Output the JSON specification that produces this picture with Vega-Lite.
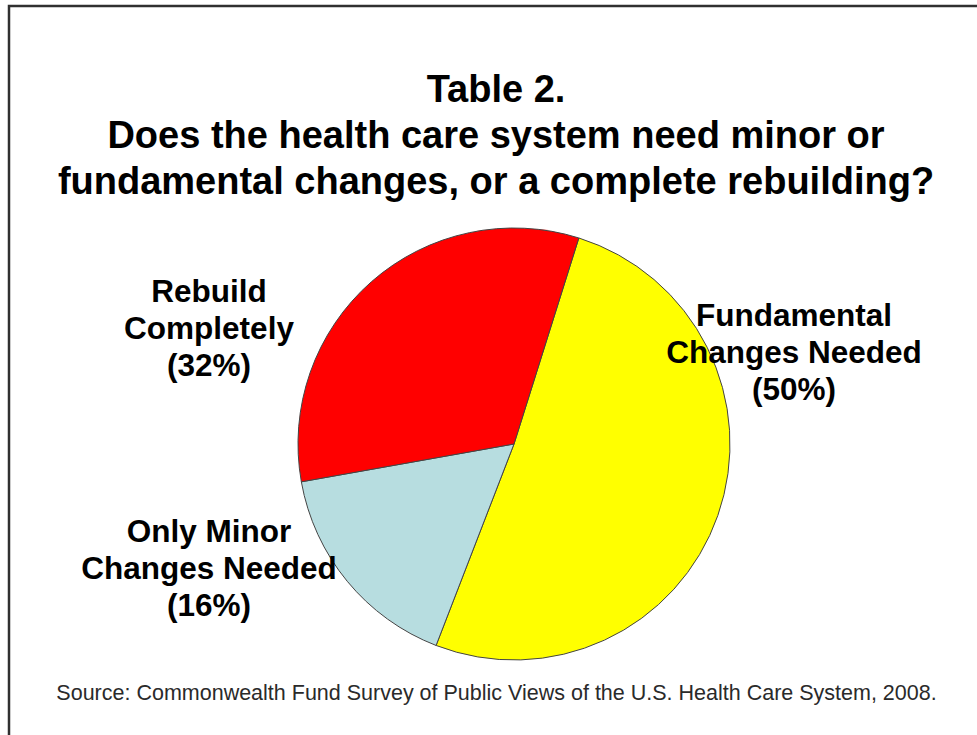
{
  "$schema": "https://vega.github.io/schema/vega-lite/v6.json",
  "width": 968,
  "height": 729,
  "autosize": {"type": "none"},
  "padding": {"left": 9, "top": 6, "right": 0, "bottom": 0},
  "background": "white",
  "view": {"stroke": "#303030", "strokeWidth": 2.5, "strokeDash": [968, 1697, 729]},
  "config": {
    "view": {"stroke": "#303030", "strokeWidth": 2.5, "strokeDash": [968, 1697, 729]},
    "font": "Liberation Sans"
  },
  "title": {
    "text": ["Table 2.", "Does the health care system need minor or", "fundamental changes, or a complete rebuilding?"],
    "fontSize": 38,
    "font": "Liberation Sans",
    "fontWeight": "bold",
    "color": "#000000",
    "lineHeight": 46,
    "anchor": "middle",
    "frame": "group",
    "offset": -196,
    "dx": 3
  },
  "data": {
    "values": [
      {"answer": "Fundamental Changes Needed", "percent": 50, "label": "Fundamental\nChanges Needed\n(50%)"},
      {"answer": "Only Minor Changes Needed", "percent": 16, "label": "Only Minor\nChanges Needed\n(16%)"},
      {"answer": "Rebuild Completely", "percent": 32, "label": "Rebuild\nCompletely\n(32%)"}
    ]
  },
  "layer": [
    {
      "mark": {"type": "arc", "radius": 216, "stroke": "#444444", "strokeWidth": 1, "xOffset": 21, "yOffset": 73.5},
      "encoding": {
        "theta": {"field": "percent", "type": "quantitative", "stack": true, "scale": {"range": [0.305, 6.588]}},
        "color": {
          "field": "answer",
          "type": "nominal",
          "scale": {
            "domain": ["Fundamental Changes Needed", "Only Minor Changes Needed", "Rebuild Completely"],
            "range": ["#FFFF00", "#B7DDE0", "#FF0000"]
          },
          "legend": null
        }
      }
    },
    {
      "transform": [{"filter": "datum.answer === 'Rebuild Completely'"}],
      "mark": {"type": "text", "lineBreak": "\n", "xOffset": 21, "yOffset": 73.5, "dx": -305, "dy": -151, "align": "center", "baseline": "middle", "fontSize": 31.5, "fontWeight": "bold", "lineHeight": 37, "font": "Liberation Sans", "color": "#000000"},
      "encoding": {"text": {"field": "label", "type": "nominal"}}
    },
    {
      "transform": [{"filter": "datum.answer === 'Fundamental Changes Needed'"}],
      "mark": {"type": "text", "lineBreak": "\n", "xOffset": 21, "yOffset": 73.5, "dx": 280, "dy": -127, "align": "center", "baseline": "middle", "fontSize": 31.5, "fontWeight": "bold", "lineHeight": 37, "font": "Liberation Sans", "color": "#000000"},
      "encoding": {"text": {"field": "label", "type": "nominal"}}
    },
    {
      "transform": [{"filter": "datum.answer === 'Only Minor Changes Needed'"}],
      "mark": {"type": "text", "lineBreak": "\n", "xOffset": 21, "yOffset": 73.5, "dx": -305, "dy": 89, "align": "center", "baseline": "middle", "fontSize": 31.5, "fontWeight": "bold", "lineHeight": 37, "font": "Liberation Sans", "color": "#000000"},
      "encoding": {"text": {"field": "label", "type": "nominal"}}
    },
    {
      "data": {"values": [{"note": "Source: Commonwealth Fund Survey of Public Views of the U.S. Health Care System, 2008."}]},
      "mark": {"type": "text", "dx": 3.5, "dy": 329.5, "align": "center", "baseline": "alphabetic", "fontSize": 21.5, "font": "Liberation Sans", "color": "#2a2a2a"},
      "encoding": {"text": {"field": "note", "type": "nominal"}}
    }
  ]
}
